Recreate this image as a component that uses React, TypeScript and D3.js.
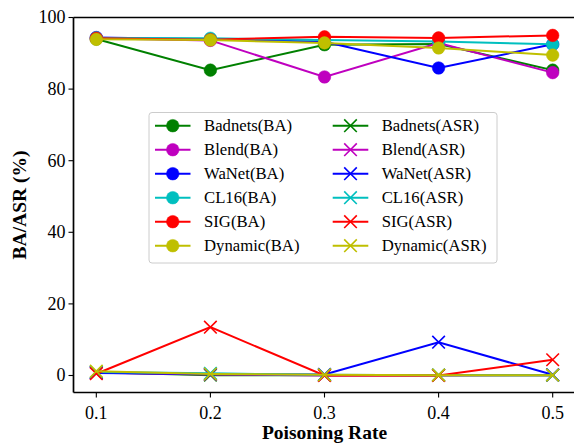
import React from "react";
import * as d3 from "d3";

const rates = [0.1, 0.2, 0.3, 0.4, 0.5];
const xTicks = [0.1, 0.2, 0.3, 0.4, 0.5];
const yTicks = [0, 20, 40, 60, 80, 100];

const methods = ["Badnets", "Blend", "WaNet", "CL16", "SIG", "Dynamic"];
const colors = ["#008000", "#bf00bf", "#0000ff", "#00bfbf", "#ff0000", "#bfbf00"];

const badnetsBA = [94.0, 85.3, 92.4, 92.6, 85.3];
const blendBA = [94.2, 93.6, 83.4, 92.9, 84.6];
const wanetBA = [94.4, 93.9, 93.2, 85.9, 92.5];
const cl16BA = [94.3, 94.2, 93.7, 93.3, 92.5];
const sigBA = [94.2, 93.8, 94.6, 94.3, 95.0];
const dynamicBA = [93.9, 93.7, 92.9, 91.5, 89.5];

const badnetsASR = [0.9, 0.1, 0.1, 0.1, 0.1];
const blendASR = [0.8, 0.3, 0.0, 0.0, 0.1];
const wanetASR = [0.7, 0.4, 0.3, 9.3, 0.2];
const cl16ASR = [1.0, 0.6, 0.2, 0.1, 0.1];
const sigASR = [0.5, 13.5, 0.0, 0.0, 4.4];
const dynamicASR = [1.2, 0.4, 0.2, 0.1, 0.1];

const baSeries = [badnetsBA, blendBA, wanetBA, cl16BA, sigBA, dynamicBA];
const asrSeries = [badnetsASR, blendASR, wanetASR, cl16ASR, sigASR, dynamicASR];

const W = 574;
const H = 445;
const M = { left: 73.5, right: 575.5, top: 17.5, bottom: 392.5 };
const FONT = "'Liberation Serif', 'Times New Roman', serif";

const x = d3.scaleLinear().domain([0.08, 0.52]).range([M.left, M.right]);
const y = d3.scaleLinear().domain([-4.75, 100]).range([M.bottom, M.top]);

const line = d3
  .line<number>()
  .x((_, i) => x(rates[i]))
  .y((d) => y(d));

const R = 6.3;

function Circle({ cx, cy, color }: { cx: number; cy: number; color: string }) {
  return <circle cx={cx} cy={cy} r={R} fill={color} stroke={color} strokeWidth={0.5} />;
}

function Cross({ cx, cy, color }: { cx: number; cy: number; color: string }) {
  const s = R;
  return (
    <path
      d={`M${cx - s},${cy - s}L${cx + s},${cy + s}M${cx - s},${cy + s}L${cx + s},${cy - s}`}
      stroke={color}
      strokeWidth={1.6}
      fill="none"
    />
  );
}

export default function App() {
  const legendX = 149;
  const legendY = 112.5;
  const legendW = 348;
  const legendH = 150.5;
  const rowY0 = 125.7;
  const rowStep = 24;
  const cols = [
    { lineX0: 155, lineX1: 190.5, textX: 204 },
    { lineX0: 332.7, lineX1: 368.3, textX: 381.7 },
  ];

  return (
    <svg
      width={W}
      height={H}
      style={{ position: "absolute", left: 0, top: 0, background: "#fff" }}
      fontFamily={FONT}
    >
      <rect x={0} y={0} width={W} height={H} fill="#fff" />
      {/* BA series */}
      {baSeries.map((s, k) => (
        <g key={"ba" + k}>
          <path d={line(s) || ""} fill="none" stroke={colors[k]} strokeWidth={2} />
          {s.map((v, i) => (
            <Circle key={i} cx={x(rates[i])} cy={y(v)} color={colors[k]} />
          ))}
        </g>
      ))}
      {/* ASR series */}
      {asrSeries.map((s, k) => (
        <g key={"asr" + k}>
          <path d={line(s) || ""} fill="none" stroke={colors[k]} strokeWidth={2} />
          {s.map((v, i) => (
            <Cross key={i} cx={x(rates[i])} cy={y(v)} color={colors[k]} />
          ))}
        </g>
      ))}

      {/* spines */}
      <g stroke="#000" strokeWidth={1.7} fill="none">
        <line x1={M.left} y1={M.top} x2={M.left} y2={M.bottom} />
        <line x1={M.left} y1={M.bottom} x2={M.right} y2={M.bottom} />
        <line x1={M.left} y1={M.top} x2={M.right} y2={M.top} />
        <line x1={M.right} y1={M.top} x2={M.right} y2={M.bottom} />
      </g>

      {/* x ticks */}
      {xTicks.map((t) => (
        <g key={"xt" + t}>
          <line x1={x(t)} x2={x(t)} y1={M.bottom} y2={M.bottom + 5} stroke="#000" strokeWidth={1.1} />
          <text x={x(t)} y={M.bottom + 26.5} textAnchor="middle" fontSize={18} fill="#000">
            {d3.format(".1f")(t)}
          </text>
        </g>
      ))}
      {/* y ticks */}
      {yTicks.map((t) => (
        <g key={"yt" + t}>
          <line x1={M.left - 5} x2={M.left} y1={y(t)} y2={y(t)} stroke="#000" strokeWidth={1.1} />
          <text x={M.left - 8} y={y(t)} dy="0.33em" textAnchor="end" fontSize={18} fill="#000">
            {t}
          </text>
        </g>
      ))}

      {/* axis labels */}
      <text
        x={(M.left + M.right) / 2}
        y={439}
        textAnchor="middle"
        fontSize={19.5}
        fontWeight="bold"
        fill="#000"
      >
        Poisoning Rate
      </text>
      <text
        transform={`translate(26,${(M.top + M.bottom) / 2}) rotate(-90)`}
        textAnchor="middle"
        fontSize={19.5}
        fontWeight="bold"
        fill="#000"
      >
        BA/ASR (%)
      </text>

      {/* legend */}
      <rect
        x={legendX}
        y={legendY}
        width={legendW}
        height={legendH}
        rx={3}
        fill="#fff"
        fillOpacity={0.8}
        stroke="#cccccc"
        strokeWidth={1}
      />
      {[0, 1].map((c) =>
        methods.map((m, k) => {
          const cy = rowY0 + k * rowStep;
          const col = cols[c];
          const mx = (col.lineX0 + col.lineX1) / 2;
          return (
            <g key={`lg${c}-${k}`}>
              <line x1={col.lineX0} x2={col.lineX1} y1={cy} y2={cy} stroke={colors[k]} strokeWidth={2} />
              {c === 0 ? (
                <Circle cx={mx} cy={cy} color={colors[k]} />
              ) : (
                <Cross cx={mx} cy={cy} color={colors[k]} />
              )}
              <text x={col.textX} y={cy} dy="0.33em" fontSize={16.7} fill="#000">
                {m + (c === 0 ? "(BA)" : "(ASR)")}
              </text>
            </g>
          );
        })
      )}
    </svg>
  );
}
